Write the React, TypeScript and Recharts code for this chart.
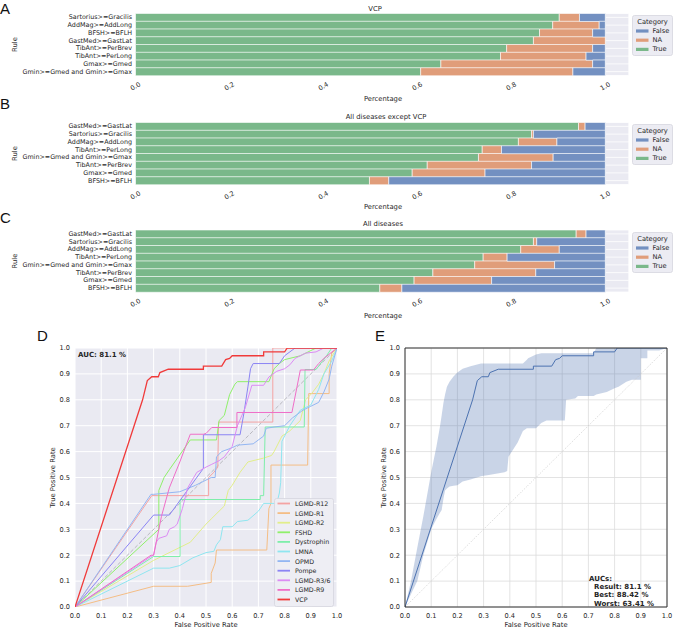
import React from 'react';
import {
  BarChart, Bar, XAxis, YAxis, CartesianGrid, Legend, LineChart, Line,
  ComposedChart, Area, ReferenceLine,
} from 'recharts';

const FONT = '"DejaVu Sans", sans-serif';
const TXT = '#262626';

// ---------- Panel A: VCP ----------
const rulesA = [
  'Sartorius>=Gracilis', 'AddMag>=AddLong', 'BFSH>=BFLH', 'GastMed>=GastLat',
  'TibAnt>=PerBrev', 'TibAnt>=PerLong', 'Gmax>=Gmed', 'Gmin>=Gmed and Gmin>=Gmax',
];
const trueA = [0.902, 0.888, 0.860, 0.847, 0.790, 0.777, 0.650, 0.607];
const naA = [0.043, 0.099, 0.113, 0.153, 0.183, 0.182, 0.323, 0.324];
const falseA = [0.055, 0.013, 0.027, 0.0, 0.027, 0.041, 0.027, 0.069];

// ---------- Panel B: All diseases except VCP ----------
const rulesB = [
  'GastMed>=GastLat', 'Sartorius>=Gracilis', 'AddMag>=AddLong', 'TibAnt>=PerLong',
  'Gmin>=Gmed and Gmin>=Gmax', 'TibAnt>=PerBrev', 'Gmax>=Gmed', 'BFSH>=BFLH',
];
const trueB = [0.943, 0.843, 0.815, 0.738, 0.730, 0.621, 0.589, 0.498];
const naB = [0.014, 0.004, 0.082, 0.041, 0.159, 0.222, 0.155, 0.041];
const falseB = [0.043, 0.153, 0.103, 0.221, 0.111, 0.157, 0.256, 0.461];

// ---------- Panel C: All diseases ----------
const rulesC = rulesB;
const trueC = [0.938, 0.847, 0.820, 0.740, 0.722, 0.633, 0.593, 0.520];
const naC = [0.021, 0.007, 0.082, 0.051, 0.170, 0.219, 0.165, 0.047];
const falseC = [0.041, 0.146, 0.098, 0.209, 0.108, 0.148, 0.242, 0.433];

const pctTicks = [0, 0.2, 0.4, 0.6, 0.8, 1.0];
const rocTicks = [0, 0.1, 0.2, 0.3, 0.4, 0.5, 0.6, 0.7, 0.8, 0.9, 1.0];

const categoryLabels = ['False', 'NA', 'True'];
const COL_FALSE = 'rgb(115,144,193)';
const COL_NA = 'rgb(224,157,122)';
const COL_TRUE = 'rgb(122,184,138)';
const categoryColors = [COL_FALSE, COL_NA, COL_TRUE];

// ---------- Panel D: ROC per disease (fpr, tpr) ----------
const rocLGMDR12 = [[0,0],[0.293,0.43],[0.51,0.43],[0.51,0.5],[0.53,0.52],[0.545,0.54],[0.548,0.714],[0.72,0.714],[0.755,0.714],[0.755,1],[1,1]];
const rocLGMDR1 = [[0,0],[0.3,0.08],[0.43,0.08],[0.52,0.095],[0.52,0.13],[0.535,0.17],[0.54,0.22],[0.732,0.22],[0.74,0.38],[0.748,0.4],[0.748,0.548],[0.888,0.548],[0.892,0.824],[0.97,0.824],[0.97,0.9],[0.98,0.98],[1,1]];
const rocLGMDR2 = [[0,0],[0.3,0.18],[0.44,0.25],[0.5,0.32],[0.52,0.34],[0.57,0.39],[0.585,0.45],[0.6,0.47],[0.63,0.52],[0.66,0.56],[0.72,0.575],[0.75,0.585],[0.76,0.6],[0.79,0.66],[0.82,0.68],[0.86,0.72],[0.88,0.8],[0.9,0.82],[0.93,0.86],[0.95,0.9],[0.97,0.95],[1,1]];
const rocFSHD = [[0,0],[0.32,0.3],[0.32,0.45],[0.34,0.5],[0.36,0.53],[0.44,0.645],[0.54,0.645],[0.55,0.72],[0.57,0.74],[0.59,0.82],[0.61,0.86],[0.62,0.87],[0.74,0.87],[0.76,0.92],[0.78,0.94],[0.8,0.955],[0.86,0.97],[0.92,1],[1,1]];
const rocDystrophin = [[0,0],[0.3,0.195],[0.401,0.195],[0.401,0.415],[0.707,0.415],[0.707,0.43],[0.72,0.43],[0.726,0.695],[0.875,0.695],[0.878,0.917],[0.92,0.917],[0.96,0.97],[0.98,1],[1,1]];
const rocLMNA = [[0,0],[0.3,0.15],[0.36,0.15],[0.4,0.16],[0.45,0.19],[0.5,0.21],[0.53,0.215],[0.54,0.24],[0.555,0.26],[0.564,0.31],[0.6,0.31],[0.62,0.33],[0.66,0.335],[0.7,0.37],[0.72,0.4],[0.77,0.4],[0.78,0.44],[0.785,0.48],[0.79,0.64],[0.8,0.66],[0.82,0.7],[0.86,0.76],[0.9,0.78],[0.93,0.84],[0.95,0.9],[0.98,0.95],[1,1]];
const rocOPMD = [[0,0],[0.29,0.435],[0.3,0.435],[0.4,0.445],[0.46,0.47],[0.52,0.5],[0.535,0.5],[0.54,0.58],[0.56,0.6],[0.6,0.615],[0.62,0.625],[0.68,0.63],[0.72,0.66],[0.73,0.69],[0.76,0.695],[0.8,0.7],[0.83,0.73],[0.87,0.76],[0.9,0.775],[0.93,0.79],[0.95,0.83],[0.97,0.88],[0.98,0.93],[1,1]];
const rocPompe = [[0,0],[0.3,0.355],[0.36,0.355],[0.49,0.535],[0.49,0.665],[0.63,0.665],[0.645,0.75],[0.66,0.85],[0.67,0.92],[0.68,0.94],[0.78,0.94],[0.8,0.97],[0.84,1],[1,1]];
const rocLGMDR36 = [[0,0],[0.29,0.195],[0.3,0.2],[0.31,0.25],[0.32,0.265],[0.35,0.275],[0.36,0.3],[0.38,0.31],[0.39,0.32],[0.41,0.38],[0.43,0.46],[0.465,0.52],[0.5,0.54],[0.52,0.55],[0.55,0.565],[0.57,0.58],[0.6,0.62],[0.62,0.7],[0.65,0.77],[0.675,0.856],[0.72,0.856],[0.74,0.888],[0.77,0.91],[0.8,0.92],[0.82,0.935],[0.84,0.96],[0.88,0.98],[0.92,0.985],[0.95,1],[1,1]];
const rocLGMDR9 = [[0,0],[0.29,0.2],[0.3,0.2],[0.33,0.35],[0.36,0.46],[0.4,0.56],[0.44,0.667],[0.49,0.667],[0.5,0.67],[0.522,0.693],[0.618,0.693],[0.618,0.751],[0.828,0.751],[0.86,0.915],[0.91,0.915],[0.93,0.94],[0.95,0.96],[1,1]];
const rocVCP = [[0,0],[0.258,0.8],[0.276,0.874],[0.293,0.889],[0.318,0.889],[0.324,0.905],[0.356,0.918],[0.49,0.918],[0.49,0.93],[0.56,0.93],[0.575,0.955],[0.59,0.96],[0.6,0.97],[0.72,0.97],[0.72,0.985],[0.8,0.985],[0.81,1],[1,1]];

const diseaseNames = ['LGMD-R12', 'LGMD-R1', 'LGMD-R2', 'FSHD', 'Dystrophin', 'LMNA', 'OPMD', 'Pompe', 'LGMD-R3/6', 'LGMD-R9', 'VCP'];
const diseaseColors = ['#f4a3a3', '#f4bd85', '#e2ee8a', '#8ff06a', '#7eeeaa', '#8fe6f0', '#93b6f2', '#8b84f4', '#dc8cf4', '#ef6fc8', '#f03a3a'];
const diseaseCurves = [rocLGMDR12, rocLGMDR1, rocLGMDR2, rocFSHD, rocDystrophin, rocLMNA, rocOPMD, rocPompe, rocLGMDR36, rocLGMDR9, rocVCP];

// ---------- Panel E: result curve and best/worst band ----------
const bandFpr = [0,0.023,0.047,0.07,0.1,0.12,0.134,0.14,0.147,0.153,0.16,0.17,0.185,0.2,0.22,0.25,0.29,0.3,0.32,0.38,0.39,0.395,0.43,0.45,0.465,0.47,0.5,0.52,0.54,0.61,0.615,0.65,0.66,0.72,0.73,0.77,0.8,0.815,0.845,0.866,0.9,0.9,0.925,0.925,0.97,1];
const bandUpper = [0,0.1,0.23,0.35,0.52,0.62,0.7,0.74,0.79,0.82,0.85,0.87,0.89,0.905,0.92,0.93,0.94,0.94,0.94,0.94,0.94,0.94,0.94,0.94,0.955,0.96,0.975,0.98,0.98,0.98,0.98,0.98,0.98,0.98,1,1,1,1,1,1,1,1,1,1,1,1];
const bandLower = [0,0.05,0.1,0.2,0.3,0.34,0.365,0.375,0.42,0.45,0.458,0.465,0.468,0.47,0.485,0.492,0.505,0.507,0.51,0.52,0.525,0.58,0.635,0.68,0.69,0.69,0.69,0.71,0.72,0.72,0.8,0.805,0.815,0.815,0.82,0.83,0.845,0.85,0.87,0.877,0.877,0.96,0.96,0.99,0.99,1];
const resultCurve = rocVCP;

const toXY = (pts: number[][]) => pts.map(([x, y]) => ({ x, y }));

const rowsOf = (rules: string[], t: number[], n: number[], f: number[]) =>
  rules.map((rule, i) => ({ rule, True: t[i], NA: n[i], False: f[i] }));

const tickStyle = { fontSize: 6.6, fill: TXT, fontFamily: FONT };

const RotTick = (props: any) => {
  const { x, y, payload } = props;
  const cy = y + 11;
  return (
    <text x={x} y={cy} transform={`rotate(-30 ${x} ${cy})`} textAnchor="middle"
      dominantBaseline="central" fontSize={6.6} fontFamily={FONT} fill={TXT}>
      {Number(payload.value).toFixed(1)}
    </text>
  );
};

const RuleTick = (props: any) => {
  const { x, y, payload } = props;
  return (
    <text x={x} y={y} textAnchor="end" dominantBaseline="central"
      fontSize={6.4} fontFamily={FONT} fill={TXT}>
      {payload.value}
    </text>
  );
};

const BarLegendContent = () => (
  <svg width={41} height={41} style={{ display: 'block' }}>
    <rect x={0.5} y={0.5} width={40} height={40} rx={2} fill="#ececf3" stroke="#d6d6de" strokeWidth={0.8} />
    <text x={20.5} y={9} textAnchor="middle" fontSize={6.7} fontFamily={FONT} fill={TXT}>Category</text>
    {categoryLabels.map((lab, i) => (
      <g key={lab}>
        <rect x={4} y={16 + i * 9.2 - 1.6} width={12.5} height={3.2} fill={categoryColors[i]} />
        <text x={20.5} y={16 + i * 9.2} dominantBaseline="central" fontSize={6.7} fontFamily={FONT} fill={TXT}>{lab}</text>
      </g>
    ))}
  </svg>
);

const RocLegendContent = () => (
  <svg width={60} height={109} style={{ display: 'block' }}>
    <rect x={0.5} y={0.5} width={59} height={108} rx={2} fill="#eeeef4" stroke="#d6d6de" strokeWidth={0.8} />
    {diseaseNames.map((name, i) => (
      <g key={name}>
        <line x1={3.5} x2={16} y1={5.5 + i * 9.6} y2={5.5 + i * 9.6} stroke={diseaseColors[i]} strokeWidth={1.8} />
        <text x={21} y={5.5 + i * 9.6} dominantBaseline="central" fontSize={6.3} fontFamily={FONT} fill={TXT}>{name}</text>
      </g>
    ))}
  </svg>
);

function RulePanel({ top, rows, plotTop }: { top: number; rows: any[]; plotTop: number }) {
  const plotH = 62;
  const H = plotTop + plotH + 30;
  return (
    <div style={{ position: 'absolute', left: 0, top, width: 673, height: H }}>
      <BarChart width={673} height={H} data={rows} layout="vertical"
        margin={{ top: plotTop, right: 44.2, bottom: 0, left: 0 }} barCategoryGap={0}>
        <CartesianGrid fill="#eaeaf2" stroke="#ffffff" strokeWidth={0.8} />
        <XAxis type="number" domain={[0, 1.05]} ticks={pctTicks} allowDataOverflow
          axisLine={false} tickLine={false} tickSize={0} tickMargin={0} height={30}
          tick={<RotTick />} interval={0} />
        <YAxis type="category" dataKey="rule" width={135.5} axisLine={false} tickLine={false}
          tickSize={0} tickMargin={3.5} tick={<RuleTick />} interval={0} />
        <Bar dataKey="True" stackId="s" fill={COL_TRUE} stroke="#ffffff" strokeWidth={0.6} isAnimationActive={false} />
        <Bar dataKey="NA" stackId="s" fill={COL_NA} stroke="#ffffff" strokeWidth={0.6} isAnimationActive={false} />
        <Bar dataKey="False" stackId="s" fill={COL_FALSE} stroke="#ffffff" strokeWidth={0.6} isAnimationActive={false} />
        <Legend layout="vertical" align="center" verticalAlign="middle" content={<BarLegendContent />}
          wrapperStyle={{ position: 'absolute', left: 632, top: plotTop + 1.5, width: 41, height: 41, right: 'auto', bottom: 'auto' }} />
      </BarChart>
    </div>
  );
}

const fmt1 = (v: number) => Number(v).toFixed(1);

function PanelD() {
  return (
    <div style={{ position: 'absolute', left: 0, top: 320, width: 345, height: 310 }}>
      <LineChart width={345} height={310} margin={{ top: 28, right: 8, bottom: 0, left: 0 }}>
        <CartesianGrid fill="#eaeaf2" stroke="#ffffff" strokeWidth={1} />
        <XAxis type="number" dataKey="x" domain={[0, 1]} ticks={rocTicks} tickFormatter={fmt1}
          allowDataOverflow axisLine={false} tickLine={false} tickSize={0} tickMargin={6} height={23}
          tick={tickStyle} interval={0} />
        <YAxis type="number" domain={[0, 1]} ticks={rocTicks} tickFormatter={fmt1} allowDataOverflow
          axisLine={false} tickLine={false} tickSize={0} tickMargin={5} width={75} tick={tickStyle} interval={0} />
        <ReferenceLine segment={[{ x: 0, y: 0 }, { x: 1, y: 1 }]} stroke="#b9b9c0" strokeWidth={1} strokeDasharray="4 2" />
        {diseaseCurves.map((c, i) => (
          <Line key={diseaseNames[i]} data={toXY(c)} dataKey="y" type="linear" stroke={diseaseColors[i]}
            strokeWidth={i === 10 ? 1.3 : 1} dot={false} activeDot={false} isAnimationActive={false} />
        ))}
        <Legend layout="vertical" align="center" verticalAlign="middle" content={<RocLegendContent />}
          wrapperStyle={{ position: 'absolute', left: 274, top: 178, width: 60, height: 109, right: 'auto', bottom: 'auto' }} />
      </LineChart>
    </div>
  );
}

function PanelE() {
  const band = bandFpr.map((x, i) => ({ x, range: [bandLower[i], bandUpper[i]] }));
  return (
    <div style={{ position: 'absolute', left: 330, top: 320, width: 343, height: 310 }}>
      <ComposedChart width={343} height={310} data={band} margin={{ top: 28, right: 6, bottom: 0, left: 0 }}>
        <CartesianGrid fill="#ffffff" stroke="#dcdcdc" strokeWidth={0.8} />
        <XAxis type="number" dataKey="x" domain={[0, 1]} ticks={rocTicks} tickFormatter={fmt1}
          allowDataOverflow axisLine={false} tickLine={false} tickSize={0} tickMargin={6} height={23}
          tick={tickStyle} interval={0} />
        <YAxis type="number" domain={[0, 1]} ticks={rocTicks} tickFormatter={fmt1} allowDataOverflow
          axisLine={false} tickLine={false} tickSize={0} tickMargin={5} width={75} tick={tickStyle} interval={0} />
        <ReferenceLine segment={[{ x: 0, y: 0 }, { x: 1, y: 1 }]} stroke="#c8c8c8" strokeWidth={0.8} strokeDasharray="1 1.5" />
        <Area dataKey="range" type="linear" fill="#4c72b0" fillOpacity={0.3} stroke="none"
          isAnimationActive={false} activeDot={false} />
        <Line data={toXY(resultCurve)} dataKey="y" type="linear" stroke="#4c72b0" strokeWidth={1}
          dot={false} activeDot={false} isAnimationActive={false} />
        <ReferenceLine x={0} stroke="#333333" strokeWidth={1} />
        <ReferenceLine x={1} stroke="#333333" strokeWidth={1} />
        <ReferenceLine y={0} stroke="#333333" strokeWidth={1} />
        <ReferenceLine y={1} stroke="#333333" strokeWidth={1} />
      </ComposedChart>
    </div>
  );
}

function Overlay() {
  const t = { fontFamily: FONT, fill: TXT };
  const letter = { fontFamily: '"Liberation Sans", Arial, sans-serif', fontSize: 15, fill: '#111' };
  return (
    <svg width={673} height={629} style={{ position: 'absolute', left: 0, top: 0, pointerEvents: 'none' }}>
      <text x={0} y={13.5} {...letter}>A</text>
      <text x={0} y={108.5} {...letter}>B</text>
      <text x={0} y={223} {...letter}>C</text>
      <text x={37} y={341} {...letter}>D</text>
      <text x={375} y={341} {...letter}>E</text>

      <text x={375} y={10.5} textAnchor="middle" fontSize={6.8} {...t}>VCP</text>
      <text x={386} y={118.5} textAnchor="middle" fontSize={6.8} {...t}>All diseases except VCP</text>
      <text x={383} y={226} textAnchor="middle" fontSize={6.8} {...t}>All diseases</text>

      <text x={383} y={101} textAnchor="middle" fontSize={6.8} {...t}>Percentage</text>
      <text x={383} y={209} textAnchor="middle" fontSize={6.8} {...t}>Percentage</text>
      <text x={383} y={318} textAnchor="middle" fontSize={6.8} {...t}>Percentage</text>

      <text x={16.5} y={44.5} transform="rotate(-90 16.5 44.5)" textAnchor="middle" fontSize={6.8} {...t}>Rule</text>
      <text x={16.5} y={153.5} transform="rotate(-90 16.5 153.5)" textAnchor="middle" fontSize={6.8} {...t}>Rule</text>
      <text x={16.5} y={261} transform="rotate(-90 16.5 261)" textAnchor="middle" fontSize={6.8} {...t}>Rule</text>

      <text x={54.5} y={477.5} transform="rotate(-90 54.5 477.5)" textAnchor="middle" fontSize={6.8} {...t}>True Positive Rate</text>
      <text x={206} y={627} textAnchor="middle" fontSize={6.8} {...t}>False Positive Rate</text>
      <text x={385.5} y={477.5} transform="rotate(-90 385.5 477.5)" textAnchor="middle" fontSize={6.8} {...t}>True Positive Rate</text>
      <text x={536} y={627} textAnchor="middle" fontSize={6.8} {...t}>False Positive Rate</text>

      <text x={78} y={356.5} fontSize={7} fontWeight="bold" {...t}>AUC: 81.1 %</text>

      <text x={589} y={580.5} fontSize={7} fontWeight="bold" {...t}>AUCs:</text>
      <text x={594} y={589} fontSize={7} fontWeight="bold" {...t}>Result: 81.1 %</text>
      <text x={594} y={597.3} fontSize={7} fontWeight="bold" {...t}>Best: 88.42 %</text>
      <text x={594} y={605.6} fontSize={7} fontWeight="bold" {...t}>Worst: 63.41 %</text>
    </svg>
  );
}

export default function App() {
  return (
    <div style={{ position: 'absolute', left: 0, top: 0, width: 673, height: 629, background: '#ffffff', overflow: 'hidden', fontFamily: FONT }}>
      <RulePanel top={0} plotTop={13.5} rows={rowsOf(rulesA, trueA, naA, falseA)} />
      <RulePanel top={110} plotTop={12.5} rows={rowsOf(rulesB, trueB, naB, falseB)} />
      <RulePanel top={215} plotTop={15} rows={rowsOf(rulesC, trueC, naC, falseC)} />
      <PanelD />
      <PanelE />
      <Overlay />
    </div>
  );
}
